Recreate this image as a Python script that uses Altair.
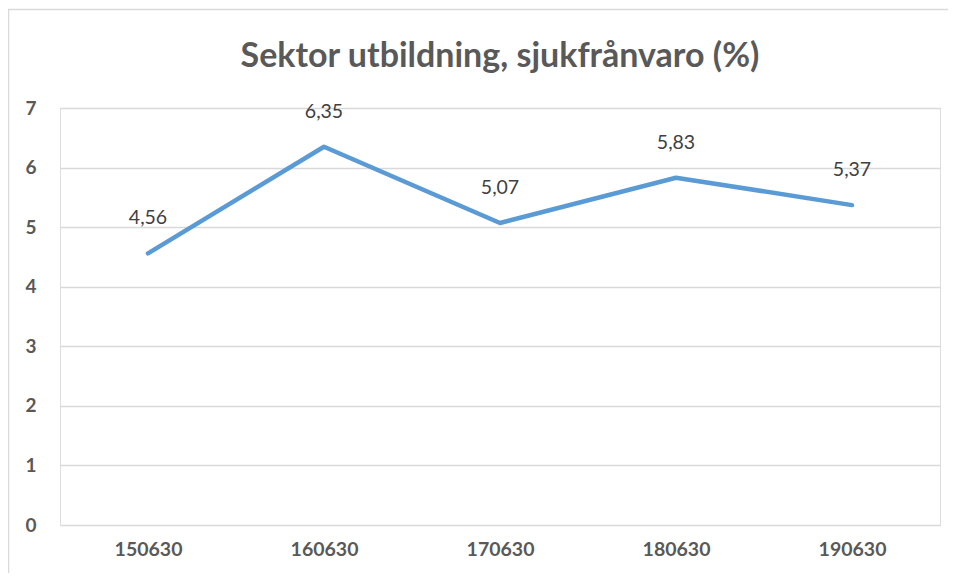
import altair as alt
import pandas as pd

categories = ["150630", "160630", "170630", "180630", "190630"]
values = [4.56, 6.35, 5.07, 5.83, 5.37]
title_text = "Sektor utbildning, sjukfrånvaro (%)"

df = pd.DataFrame({"period": categories, "value": values})

FONT = "Lato"
GREY = "#595959"

x = alt.X("period:N", sort=categories,
          scale=alt.Scale(type="point", padding=0.5),
          axis=alt.Axis(title=None, labelAngle=0, ticks=False, domain=False,
                        grid=False, labelFont=FONT, labelFontSize=19.5,
                        labelFontWeight="bold", labelColor=GREY, labelPadding=15))
y = alt.Y("value:Q", scale=alt.Scale(domain=[0, 7], nice=False),
          axis=alt.Axis(title=None, values=list(range(8)), ticks=False, domain=False,
                        gridColor="#d9d9d9", gridWidth=1.3, labelFont=FONT,
                        labelFontSize=19, labelFontWeight="bold", labelColor=GREY,
                        labelPadding=24))

base = alt.Chart(df)

frame = base.mark_rect(fill=None, stroke="#d9d9d9", strokeWidth=1.5).encode(
    x=alt.value(-51.5), x2=alt.value(1000), y=alt.value(-98.5), y2=alt.value(1000)
).transform_filter("datum.period == '150630'")

line = base.mark_line(color="#5B9BD5", strokeWidth=4.5, strokeJoin="round",
                      strokeCap="round").encode(x=x, y=y)

labels = base.transform_calculate(
    lbl="replace(format(datum.value, '.2f'), '.', ',')"
).mark_text(font=FONT, fontSize=19.5, color="#404040", dy=-35).encode(
    x=x, y=y, text="lbl:N")

chart = alt.layer(frame, line, labels).properties(
    width=880, height=417,
    autosize=alt.AutoSizeParams(type="none"),
    padding={"left": 52, "top": 100, "right": 8, "bottom": 48},
    title=alt.TitleParams(title_text, font=FONT, fontSize=34, fontWeight="bold",
                          color=GREY, anchor="middle", frame="group", offset=-65),
).configure_view(stroke=None).configure(background="white")

chart.save("out.html", embed_options={"renderer": "svg", "actions": False})
